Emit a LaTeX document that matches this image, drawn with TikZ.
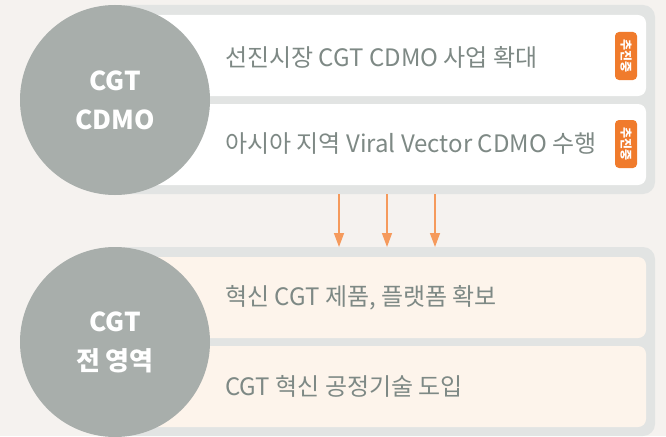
\documentclass[tikz,border=0pt]{standalone}
\usepackage{fontspec}
\setmainfont{Noto Sans CJK KR}
\usetikzlibrary{arrows.meta}
\definecolor{bgc}{HTML}{F5F2EF}
\definecolor{panelc}{HTML}{E2E4E3}
\definecolor{circc}{HTML}{A8AEAB}
\definecolor{creamc}{HTML}{FDF4EB}
\definecolor{txtc}{HTML}{7E8985}
\definecolor{orangec}{HTML}{F07B2C}
\definecolor{arrowc}{HTML}{F59A5C}
\tikzset{
  panel/.style={fill=panelc, draw=none, rounded corners=12pt},
  itembox/.style={draw=none, rounded corners=8pt},
  bigcirc/.style={circle, fill=circc, minimum size=190pt, inner sep=0pt, text=white, font=\fontsize{26}{39}\selectfont\bfseries, align=center},
  itemtext/.style={anchor=west, text=txtc, font=\fontsize{24}{28}\selectfont, inner sep=0pt},
  badge/.style={fill=orangec, rounded corners=4pt, minimum width=48pt, minimum height=22pt, inner sep=0pt, text=white, font=\fontsize{12}{12}\selectfont\bfseries, rotate=-90},
  flow/.style={draw=arrowc, line width=1.4pt, -{Triangle[width=10pt,length=14pt]}}
}
\begin{document}
\begin{tikzpicture}[x=1pt,y=-1pt]
\useasboundingbox (0,0) rectangle (666,436);
\fill[bgc] (0,0) rectangle (666,436);
% top panel
\fill[panel] (115,5) rectangle (655,194);
\fill[itembox, fill=white] (115,15) rectangle (646,96);
\fill[itembox, fill=white] (115,104) rectangle (646,185);
% bottom panel
\fill[panel] (115,247) rectangle (655,436);
\fill[itembox, fill=creamc] (115,257) rectangle (646,338);
\fill[itembox, fill=creamc] (115,346) rectangle (646,427);
% circles
\node[bigcirc] (c1) at (115,100) {CGT\\CDMO};
\node[bigcirc] (c2) at (115,342) {CGT\\전 영역};
% texts
\node[itemtext] (t1) at (225,57) {선진시장 CGT CDMO 사업 확대};
\node[itemtext] (t2) at (225,144) {아시아 지역 Viral Vector CDMO 수행};
\node[itemtext] (t3) at (225,298) {혁신 CGT 제품, 플랫폼 확보};
\node[itemtext] (t4) at (225,386) {CGT 혁신 공정기술 도입};
% badges
\node[badge] (b1) at (626,56) {추진중};
\node[badge] (b2) at (626,144) {추진중};
% arrows
\coordinate (a1s) at (339,194); \coordinate (a1e) at (339,247);
\coordinate (a2s) at (387,194); \coordinate (a2e) at (387,247);
\coordinate (a3s) at (435,194); \coordinate (a3e) at (435,247);
\draw[flow] (a1s) -- (a1e);
\draw[flow] (a2s) -- (a2e);
\draw[flow] (a3s) -- (a3e);
\end{tikzpicture}
\end{document}
